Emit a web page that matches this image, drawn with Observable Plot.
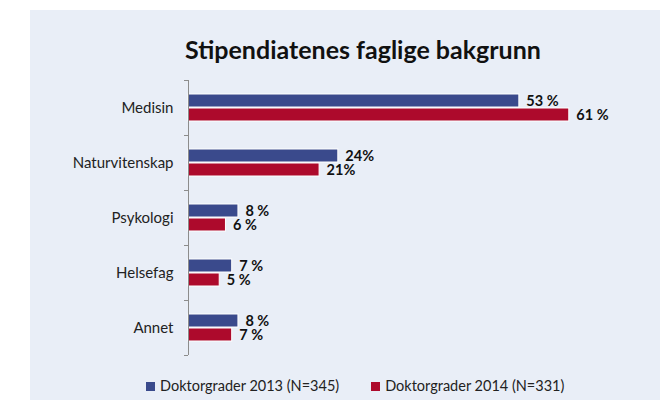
<!DOCTYPE html>
<html><head><meta charset="utf-8">
<script src="https://cdn.jsdelivr.net/npm/d3@7"></script>
<script src="https://cdn.jsdelivr.net/npm/@observablehq/plot@0.6"></script>
<style>
body{margin:0;background:#fff;font-family:Lato,"Open Sans",sans-serif;width:667px;height:403px;overflow:hidden;position:relative;}
#panel{position:absolute;left:30px;top:10px;width:630px;height:390px;background:#e9eef7;}
#title{position:absolute;left:0;top:34px;width:726px;text-align:center;font-size:25px;font-weight:bold;color:#111;line-height:30px;}
#chart{position:absolute;left:30px;top:70px;}
#legend{position:absolute;left:146px;top:377px;display:flex;gap:32px;font-size:14.5px;color:#222;line-height:18px;}
.item{display:flex;align-items:center;gap:5px;}
.sw{width:9px;height:9px;display:inline-block;}
</style>
</head><body>
<div id="panel"></div>
<div id="title">Stipendiatenes faglige bakgrunn</div>
<div id="chart"></div>
<div id="legend"></div>
<script>
const categories = ["Medisin","Naturvitenskap","Psykologi","Helsefag","Annet"];
const series = ["Doktorgrader 2013 (N=345)","Doktorgrader 2014 (N=331)"];
const values2013 = [53,24,8,7,8];
const values2014 = [61,21,6,5,7];
const labels2013 = ["53 %","24%","8 %","7 %","8 %"];
const labels2014 = ["61 %","21%","6 %","5 %","7 %"];
const colors = ["#3a4a8c","#ad0a2c"];

const data = categories.flatMap((c,i)=>[
  {cat:c, s:series[0], v:values2013[i], label:labels2013[i]},
  {cat:c, s:series[1], v:values2014[i], label:labels2014[i]}
]);

const chart = Plot.plot({
  width:630, height:300,
  marginLeft:158, marginRight:60, marginTop:10, marginBottom:15,
  style:{background:"transparent", fontFamily:"Lato, 'Open Sans', sans-serif", color:"#222", overflow:"visible"},
  x:{domain:[0,66], axis:null},
  y:{domain:series, axis:null, paddingInner:0.05, paddingOuter:0.95},
  fy:{domain:categories, padding:0, axis:null},
  color:{domain:series, range:colors},
  marks:[
    Plot.barX(data,{fy:"cat", y:"s", x:"v", fill:"s", stroke:"white", strokeWidth:1}),
    Plot.text(data,{fy:"cat", y:"s", x:"v", text:"label", dx:7, textAnchor:"start", fontWeight:"bold", fontSize:14.5, fill:"#111"}),
    Plot.ruleX([0],{stroke:"#8c8c8c"}),
    Plot.axisFy({anchor:"left", tickSize:0, tickPadding:15, fontSize:15, label:null}),
    Plot.axisFy({anchor:"left", tickSize:4, tickPadding:0, tickFormat:()=>"", dy:-27.5, label:null, stroke:"#8c8c8c"}),
    Plot.axisFy({anchor:"left", ticks:["Annet"], tickSize:4, tickPadding:0, tickFormat:()=>"", dy:27.5, label:null, stroke:"#8c8c8c"})
  ]
});
document.getElementById("chart").append(chart);

const legend = document.getElementById("legend");
series.forEach((s,i)=>{
  const it = document.createElement("div"); it.className="item";
  const sw = document.createElement("span"); sw.className="sw"; sw.style.background=colors[i];
  const t = document.createElement("span"); t.textContent=s;
  it.append(sw,t); legend.append(it);
});
</script>
</body></html>
